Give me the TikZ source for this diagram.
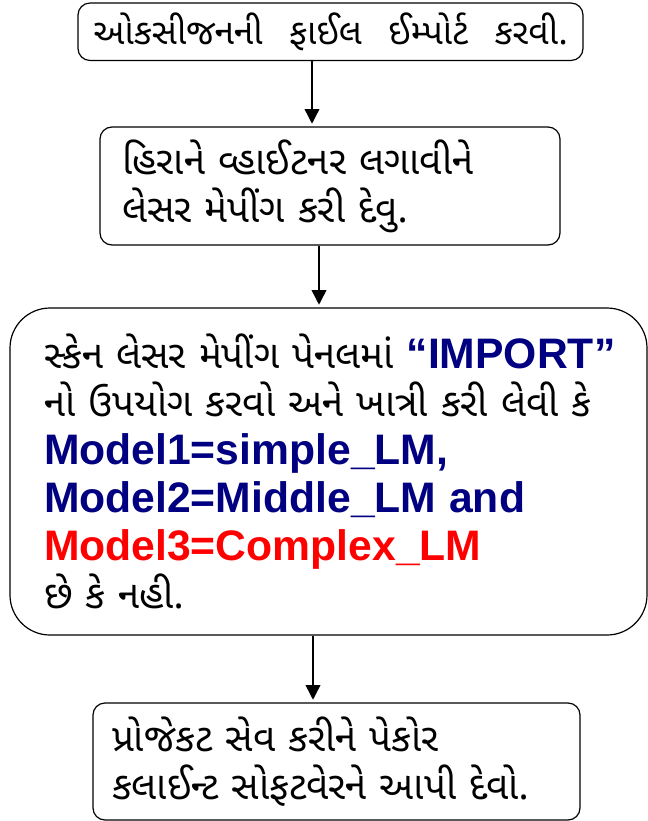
\documentclass[tikz,border=0pt]{standalone}
\usepackage{fontspec}
\setmainfont{Liberation Sans}
\newfontfamily\guj[Script=Gujarati,WordSpace=2.5]{Noto Sans Gujarati UI}
\usetikzlibrary{arrows.meta}
\definecolor{navyblue}{RGB}{0,0,128}
\newcommand{\latbig}{\normalfont\bfseries\fontsize{32pt}{36pt}\selectfont}
\begin{document}
\begin{tikzpicture}[x=0.75pt, y=-0.75pt,
  stepbox/.style={draw, line width=0.9pt, rounded corners=9pt, inner ysep=0pt,
    font={\guj\fontsize{29pt}{36pt}\selectfont}},
  flow/.style={line width=1.1pt, -{Triangle[width=11pt,length=11pt]}, shorten >=2pt}]
\useasboundingbox (0,0) rectangle (648,821);
\node[stepbox, minimum width=378.75pt, minimum height=43.1pt, align=center, font={\guj\fontsize{26.5pt}{36pt}\selectfont}] (b1) at (330.5,31.75){ઓકસીજનની ફાઈલ ઈમ્પોર્ટ કરવી.};
\node[stepbox, minimum width=345pt, minimum height=88.5pt, inner xsep=16.5pt, text width=312pt, align=left] (b2) at (330,186){હિરાને વ્હાઈટનર લગાવીને\\ લેસર મેપીંગ કરી દેવુ.};
\node[stepbox, rounded corners=30pt, minimum width=477.75pt, minimum height=245.25pt, inner xsep=25.5pt, text width=426.75pt, align=left] (b3) at (328.5,471.5){\mbox{સ્કેન લેસર મેપીંગ પેનલમાં {\latbig\color{navyblue}“IMPORT”}}\\ નો ઉપયોગ કરવો અને ખાત્રી કરી લેવી કે\\ {\latbig\color{navyblue}Model1=simple\_LM,}\\ {\latbig\color{navyblue}Model2=Middle\_LM and}\\ {\latbig\color{red}Model3=Complex\_LM}\\ છે કે નહી.};
\node[stepbox, minimum width=365.25pt, minimum height=87.75pt, inner xsep=14.25pt, text width=336.75pt, align=left] (b4) at (336.5,761.5){પ્રોજેકટ સેવ કરીને પેકોર\\ કલાઈન્ટ સોફટવેરને આપી દેવો.};
\coordinate (ax1) at (312,0);
\coordinate (ax2) at (319,0);
\coordinate (ax3) at (313,0);
\draw[flow](ax1 |- b1.south) -- (ax1 |- b2.north);
\draw[flow](ax2 |- b2.south) -- (ax2 |- b3.north);
\draw[flow](ax3 |- b3.south) -- (ax3 |- b4.north);
\end{tikzpicture}
\end{document}
